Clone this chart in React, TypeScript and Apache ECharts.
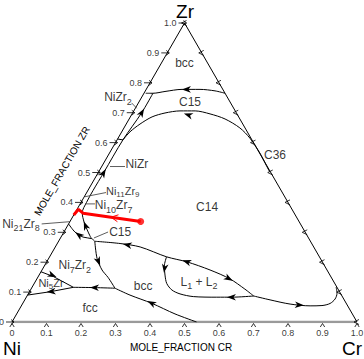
import { useEffect, useRef } from "react";
import * as echarts from "echarts";

const FONT = "'Liberation Sans', Arial, Helvetica, sans-serif";

// axis ticks (mole fractions) and their labels
const tickValues = [0, 0.1, 0.2, 0.3, 0.4, 0.5, 0.6, 0.7, 0.8, 0.9, 1.0];
const tickLabels = ["0", "0.1", "0.2", "0.3", "0.4", "0.5", "0.6", "0.7", "0.8", "0.9", "1.0"];

// boundary curves, points are [x_Cr, x_Zr]
const bccC15Upper = [[0.235, 0.765], [0.202, 0.773], [0.156, 0.778], [0.104, 0.778], [0.058, 0.771], [0.026, 0.765], [0.005, 0.765]];
const bandLine = [[0.026, 0.765], [0.026, 0.70], [0.017, 0.609], [0.016, 0.50], [0.015, 0.44], [0.016, 0.40], [0.021, 0.365], [0.042, 0.334], [0.064, 0.308], [0.082, 0.288], [0.091, 0.279]];
const bandCross = [[0.0, 0.612], [0.017, 0.609]];
const c15Lower = [[0.017, 0.609], [0.024, 0.636], [0.040, 0.662], [0.063, 0.686], [0.094, 0.699], [0.134, 0.706], [0.178, 0.706], [0.226, 0.696], [0.278, 0.679], [0.336, 0.649], [0.382, 0.615], [0.436, 0.565], [0.474, 0.525], [0.495, 0.503]];
const ni21Line = [[0.0, 0.328], [0.032, 0.301], [0.064, 0.284], [0.091, 0.279], [0.105, 0.270]];
const ni7Line = [[0.105, 0.270], [0.14, 0.213], [0.174, 0.174], [0.204, 0.149], [0.242, 0.113]];
const bccUpperLine = [[0.105, 0.270], [0.182, 0.2625], [0.246, 0.251], [0.339, 0.218], [0.407, 0.201], [0.487, 0.174], [0.56, 0.144], [0.62, 0.11], [0.657, 0.087]];
const l1l2Lower = [[0.339, 0.218], [0.348, 0.187], [0.365, 0.157], [0.384, 0.129], [0.41, 0.107], [0.44, 0.094], [0.483, 0.085], [0.552, 0.083], [0.596, 0.083], [0.657, 0.087]];
const bccLoop = [[0.657, 0.087], [0.711, 0.074], [0.776, 0.06], [0.837, 0.054], [0.871, 0.055], [0.891, 0.062], [0.898, 0.077], [0.894, 0.096], [0.881, 0.117]];
const fccLeft = [[0.242, 0.113], [0.183, 0.115], [0.12, 0.116]];
const fccBcc = [[0.242, 0.113], [0.297, 0.09], [0.374, 0.0625], [0.459, 0.027], [0.535, 0.0]];
const ni5Upper = [[0.0, 0.168], [0.044, 0.152], [0.12, 0.116]];
const ni5Lower = [[0.12, 0.116], [0.059, 0.101], [0.0, 0.09]];

// calculated path (red)
const redPath = [[0.205, 0.336], [0.024, 0.364], [0.004, 0.377], [0.0, 0.358]];
const redArrowAt = [0.118, 0.3495];
const redArrowToward = [0.09, 0.354];

// direction arrows on the boundaries: position and the point they head to
const arrowAt = [
  [0.118, 0.778], [0.166, 0.692], [0.026, 0.699], [0.016, 0.497], [0.053, 0.321],
  [0.05, 0.29], [0.148, 0.204], [0.207, 0.2575], [0.407, 0.201], [0.554, 0.146],
  [0.352, 0.181], [0.596, 0.083], [0.803, 0.057], [0.183, 0.115], [0.374, 0.0625],
  [0.037, 0.157], [0.064, 0.102],
];
const arrowToward = [
  [0.09, 0.778], [0.14, 0.70], [0.026, 0.73], [0.016, 0.53], [0.042, 0.334],
  [0.032, 0.301], [0.16, 0.19], [0.18, 0.263], [0.38, 0.21], [0.58, 0.133],
  [0.358, 0.165], [0.57, 0.083], [0.83, 0.055], [0.16, 0.116], [0.34, 0.078],
  [0.06, 0.148], [0.04, 0.099],
];

// phase labels
const regionNames = [
  "{n|bcc}", "{n|NiZr}{s|2}", "{n|C15}", "{n|C36}", "{n|NiZr}",
  "{m|Ni}{t|11}{m|Zr}{t|9}", "{n|Ni}{s|10}{n|Zr}{s|7}", "{n|C14}", "{n|Ni}{s|21}{n|Zr}{s|8}",
  "{n|C15}", "{n|Ni}{s|7}{n|Zr}{s|2}", "{n|bcc}", "{n|L}{s|1}{n| + L}{s|2}", "{m|Ni}{t|5}{m|Zr}", "{n|fcc}",
];
const regionAt = [
  [0.067, 0.866], [-0.069, 0.7525], [0.148, 0.736], [0.483, 0.5585], [0.098, 0.528],
  [0.102, 0.438], [0.099, 0.391], [0.373, 0.385], [-0.138, 0.328],
  [0.163, 0.301], [0.087, 0.19], [0.32, 0.12], [0.475, 0.134], [0.048, 0.13], [0.203, 0.047],
];
const leaders = [
  [[-0.02, 0.733], [0.004, 0.715]],
  [[0.024, 0.52], [0.0675, 0.52]],
  [[0.002, 0.419], [0.056, 0.433]],
  [[0.015, 0.395], [0.043, 0.395]],
  [[-0.078, 0.328], [0.0, 0.3355]],
  [[0.097, 0.281], [0.128, 0.301]],
];

const toXY = (p: number[]) => [p[0] + p[1] / 2, p[1]];

export default function App() {
  const ref = useRef<HTMLDivElement>(null);
  useEffect(() => {
    if (!ref.current) return;
    const chart = echarts.init(ref.current, null, { renderer: "svg" });

    const curve = (pts: number[][], extra: any = {}) => ({
      type: "line",
      data: pts.map(toXY),
      showSymbol: false,
      symbol: "none",
      smooth: 0.3,
      silent: true,
      lineStyle: { color: "#000", width: 1 },
      z: 3,
      ...extra,
    });

    const tickData: number[][] = [];
    tickValues.forEach((v) => {
      tickData.push([v / 2, v, 0]); // Ni-Zr side
      tickData.push([v, 0, 1]); // Ni-Cr base
      tickData.push([1 - v / 2, v, 2]); // Cr-Zr side
    });

    const rich = {
      n: { fontSize: 12, fontFamily: FONT, color: "#000", lineHeight: 12, verticalAlign: "top" },
      s: { fontSize: 9, fontFamily: FONT, color: "#000", lineHeight: 8, verticalAlign: "top", padding: [6, 0, 0, 0] },
      m: { fontSize: 11, fontFamily: FONT, color: "#000", lineHeight: 11, verticalAlign: "top" },
      t: { fontSize: 8, fontFamily: FONT, color: "#000", lineHeight: 7, verticalAlign: "top", padding: [5, 0, 0, 0] },
    };

    const option: any = {
      animation: false,
      grid: { left: 12, top: 23, width: 345, height: 299, containLabel: false },
      xAxis: { type: "value", min: 0, max: 1, show: false },
      yAxis: { type: "value", min: 0, max: 1, show: false },
      graphic: [
        { type: "text", x: 12, y: 348, style: { text: "Ni", font: `19px ${FONT}`, fill: "#000", align: "center", verticalAlign: "middle" } },
        { type: "text", x: 352, y: 348, style: { text: "Cr", font: `19px ${FONT}`, fill: "#000", align: "center", verticalAlign: "middle" } },
        { type: "text", x: 185, y: 11, style: { text: "Zr", font: `19px ${FONT}`, fill: "#000", align: "center", verticalAlign: "middle" } },
        { type: "text", x: 181, y: 347, style: { text: "MOLE_FRACTION CR", font: `10px ${FONT}`, fill: "#000", align: "center", verticalAlign: "middle" } },
        { type: "text", x: 62, y: 171, rotation: Math.PI / 3, style: { text: "MOLE_FRACTION ZR", font: `10px ${FONT}`, fill: "#000", align: "center", verticalAlign: "middle" } },
      ],
      series: [
        curve([[0, 0], [1, 0]], { smooth: false, lineStyle: { color: "#9a9a9a", width: 2.5 }, z: 2 }),
        curve([[0, 0], [0, 1]], { smooth: false }),
        curve([[1, 0], [0, 1]], { smooth: false }),
        curve(bccC15Upper),
        curve(bandLine),
        curve(bandCross, { smooth: false }),
        curve(c15Lower),
        curve(ni21Line),
        curve(ni7Line),
        curve(bccUpperLine),
        curve(l1l2Lower),
        curve(bccLoop),
        curve(fccLeft),
        curve(fccBcc),
        curve(ni5Upper, { smooth: false }),
        curve(ni5Lower, { smooth: false }),
        ...leaders.map((l) => curve(l, { smooth: false, lineStyle: { color: "#333", width: 0.8 } })),
        // ticks
        {
          type: "custom",
          silent: true,
          data: tickData,
          z: 4,
          renderItem: (params: any, api: any) => {
            const p = api.coord([api.value(0), api.value(1)]);
            const k = api.value(2);
            const st = { stroke: "#000", fill: null, lineWidth: 0.8 };
            if (k === 0) {
              return {
                type: "group",
                children: [
                  { type: "line", shape: { x1: p[0] - 6, y1: p[1], x2: p[0] + 2, y2: p[1] }, style: st },
                  { type: "polyline", shape: { points: [[p[0] - 1, p[1] - 2.5], [p[0] + 2, p[1]], [p[0] - 1, p[1] + 2.5]] }, style: st },
                ],
              };
            }
            if (k === 1) {
              return { type: "polyline", shape: { points: [[p[0] - 2.2, p[1] + 5], [p[0], p[1] + 1.5], [p[0] + 2.2, p[1] + 5]] }, style: st };
            }
            return { type: "polyline", shape: { points: [[p[0] + 2, p[1] - 2.5], [p[0] - 3, p[1]], [p[0] + 2, p[1] + 2.5]] }, style: st };
          },
        },
        // arrows
        {
          type: "custom",
          silent: true,
          z: 5,
          data: arrowAt.map((a, i) => [...toXY(a), ...toXY(arrowToward[i])]),
          renderItem: (params: any, api: any) => {
            const p = api.coord([api.value(0), api.value(1)]);
            const q = api.coord([api.value(2), api.value(3)]);
            const ang = Math.atan2(q[1] - p[1], q[0] - p[0]);
            const ux = Math.cos(ang), uy = Math.sin(ang);
            const nx = -uy, ny = ux;
            const L = 5, B = 4, W = 3.3, N = 1.5;
            return {
              type: "polygon",
              shape: {
                points: [
                  [p[0] + ux * L, p[1] + uy * L],
                  [p[0] - ux * B + nx * W, p[1] - uy * B + ny * W],
                  [p[0] - ux * N, p[1] - uy * N],
                  [p[0] - ux * B - nx * W, p[1] - uy * B - ny * W],
                ],
              },
              style: { fill: "#000" },
            };
          },
        },
        // left axis labels
        {
          type: "scatter",
          silent: true,
          symbolSize: 0,
          data: tickValues.map((v, i) => ({ value: [v / 2, v], name: tickLabels[i] })),
          label: { show: true, position: "left", distance: 8, formatter: (p: any) => p.name, fontSize: 9, fontFamily: FONT, color: "#000" },
        },
        // bottom axis labels
        {
          type: "scatter",
          silent: true,
          symbolSize: 0,
          data: tickValues.map((v, i) => ({ value: [v, 0], name: tickLabels[i] })),
          label: { show: true, position: "bottom", distance: 6, formatter: (p: any) => p.name, fontSize: 9, fontFamily: FONT, color: "#000" },
        },
        // region labels
        {
          type: "scatter",
          silent: true,
          symbolSize: 0,
          z: 6,
          data: regionAt.map((a, i) => ({ value: toXY(a), name: regionNames[i] })),
          label: { show: true, position: "inside", formatter: (p: any) => p.name, rich },
        },
        // red path
        curve(redPath, { smooth: false, lineStyle: { color: "#ff0000", width: 3 }, z: 8 }),
        {
          type: "scatter",
          silent: true,
          z: 9,
          symbol: "circle",
          symbolSize: 7,
          itemStyle: { color: "#ff0000" },
          data: [toXY(redPath[0])],
        },
        {
          type: "custom",
          silent: true,
          z: 9,
          data: [[...toXY(redArrowAt), ...toXY(redArrowToward)]],
          renderItem: (params: any, api: any) => {
            const p = api.coord([api.value(0), api.value(1)]);
            const q = api.coord([api.value(2), api.value(3)]);
            const ang = Math.atan2(q[1] - p[1], q[0] - p[0]);
            const ux = Math.cos(ang), uy = Math.sin(ang);
            const nx = -uy, ny = ux;
            return {
              type: "polyline",
              shape: {
                points: [
                  [p[0] - ux * 5 + nx * 3.5, p[1] - uy * 5 + ny * 3.5],
                  [p[0] + ux * 2, p[1] + uy * 2],
                  [p[0] - ux * 5 - nx * 3.5, p[1] - uy * 5 - ny * 3.5],
                ],
              },
              style: { stroke: "#ff0000", fill: null, lineWidth: 1 },
            };
          },
        },
      ],
    };
    chart.setOption(option);
    return () => chart.dispose();
  }, []);
  return <div ref={ref} style={{ position: "fixed", left: 0, top: 0, width: 364, height: 359, background: "#fff" }} />;
}
